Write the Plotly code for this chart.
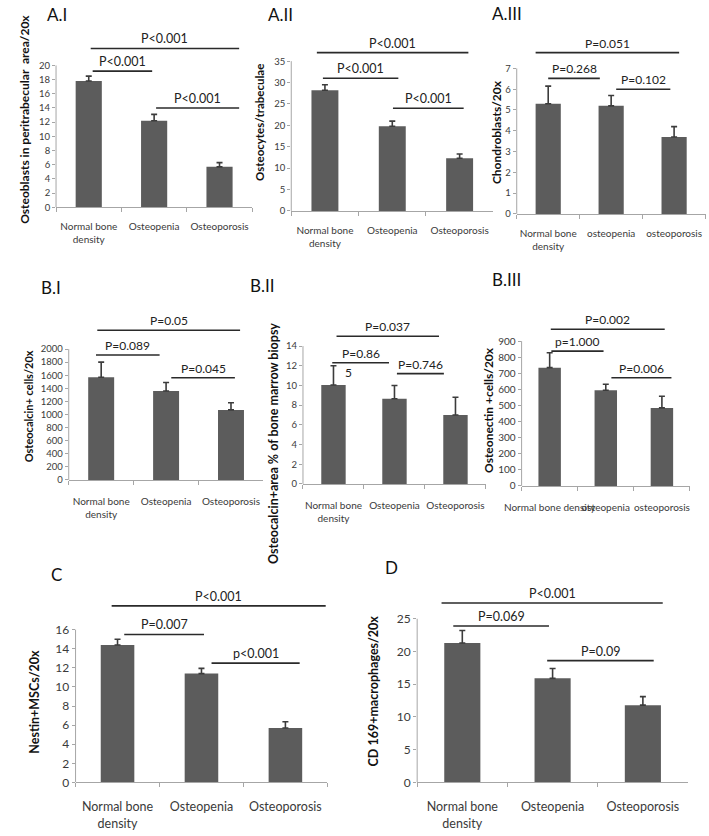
import plotly.graph_objects as go

W, H = 709, 836
FONT = "Lato, 'Open Sans', sans-serif"

# ---------------- data ----------------
cats_cap = ["Normal bone<br>density", "Osteopenia", "Osteoporosis"]
cats_low = ["Normal bone<br>density", "osteopenia", "osteoporosis"]
cats_one = ["Normal bone density", "osteopenia", "osteoporosis"]

# A.I
a1_values = [17.8, 12.2, 5.7]
a1_errors = [0.7, 0.9, 0.6]
a1_yticks = [0, 2, 4, 6, 8, 10, 12, 14, 16, 18, 20]
a1_p_labels = ["P<0.001", "P<0.001", "P<0.001"]
a1_p_from = [0.03, 0.06, 1.03]
a1_p_to = [2.30, 0.97, 2.30]
a1_p_height = [22.4, 19.2, 14.0]

# A.II
a2_values = [28.2, 19.8, 12.3]
a2_errors = [1.3, 1.2, 1.0]
a2_yticks = [0, 5, 10, 15, 20, 25, 30, 35]
a2_p_labels = ["P<0.001", "P<0.001", "P<0.001"]
a2_p_from = [-0.12, -0.03, 1.01]
a2_p_to = [2.13, 1.09, 2.06]
a2_p_height = [37.0, 31.0, 24.0]

# A.III
a3_values = [5.3, 5.2, 3.7]
a3_errors = [0.85, 0.5, 0.5]
a3_yticks = [0, 1, 2, 3, 4, 5, 6, 7]
a3_p_labels = ["P=0.051", "P=0.268", "P=0.102"]
a3_p_from = [-0.20, 0.0, 1.08]
a3_p_to = [2.08, 0.82, 1.94]
a3_p_height = [7.76, 6.52, 6.0]

# B.I
b1_values = [1570, 1360, 1070]
b1_errors = [230, 130, 110]
b1_yticks = [0, 200, 400, 600, 800, 1000, 1200, 1400, 1600, 1800, 2000]
b1_p_labels = ["P=0.05", "P=0.089", "P=0.045"]
b1_p_from = [-0.06, -0.08, 1.08]
b1_p_to = [2.14, 0.90, 2.06]
b1_p_height = [2288, 1909, 1561]

# B.II
b2_values = [10.05, 8.65, 7.0]
b2_errors = [1.95, 1.35, 1.8]
b2_yticks = [0, 2, 4, 6, 8, 10, 12, 14]
b2_p_labels = ["P=0.037", "P=0.86", "P=0.746"]
b2_p_from = [0.05, -0.02, 1.04]
b2_p_to = [1.73, 0.91, 1.81]
b2_p_height = [15.0, 12.3, 11.2]
b2_extra_text = ["5"]
b2_extra_x = [0.24]
b2_extra_y = [11.3]

# B.III
b3_values = [735, 595, 485]
b3_errors = [93, 37, 72]
b3_yticks = [0, 100, 200, 300, 400, 500, 600, 700, 800, 900]
b3_p_labels = ["P=0.002", "p=1.000", "P=0.006"]
b3_p_from = [0.02, 0.03, 1.10]
b3_p_to = [2.05, 0.96, 2.17]
b3_p_height = [974, 838, 672]

# C
c_values = [14.4, 11.4, 5.7]
c_errors = [0.6, 0.55, 0.65]
c_yticks = [0, 2, 4, 6, 8, 10, 12, 14, 16]
c_p_labels = ["P<0.001", "P=0.007", "p<0.001"]
c_p_from = [-0.07, 0.08, 1.12]
c_p_to = [2.48, 1.03, 2.17]
c_p_height = [18.5, 15.5, 12.5]

# D
d_values = [21.3, 15.9, 11.8]
d_errors = [1.9, 1.5, 1.3]
d_yticks = [0, 5, 10, 15, 20, 25]
d_p_labels = ["P<0.001", "P=0.069", "P=0.09"]
d_p_from = [-0.23, -0.10, 0.94]
d_p_to = [2.22, 0.96, 2.12]
d_p_height = [27.4, 23.9, 18.6]

# ---------------- layout geometry (pixels) & styles ----------------
panels = [
    dict(name="A.I", cats=cats_cap, v=a1_values, e=a1_errors, yt=a1_yticks,
         pl=a1_p_labels, pf=a1_p_from, pt=a1_p_to, ph=a1_p_height,
         ylabel="Osteoblasts in peritrabecular  area/20x",
         left=40, right=241, y0=209, ytop=66, domtop=25, so=10,
         tpos=(29, 15), ypos=(8, 120), yfs=12, tfs=9.5, xfs=10, pfs=12.5),
    dict(name="A.II", cats=cats_cap, v=a2_values, e=a2_errors, yt=a2_yticks,
         pl=a2_p_labels, pf=a2_p_from, pt=a2_p_to, ph=a2_p_height,
         ylabel="Osteocytes/trabeculae",
         left=281, right=488, y0=212.7, ytop=61.7, domtop=25, so=10,
         tpos=(255, 15), ypos=(249, 124), yfs=11.5, tfs=9.5, xfs=10, pfs=12.5),
    dict(name="A.III", cats=cats_low, v=a3_values, e=a3_errors, yt=a3_yticks,
         pl=a3_p_labels, pf=a3_p_from, pt=a3_p_to, ph=a3_p_height,
         ylabel="Chondroblasts/20x",
         left=512, right=705.5, y0=215.7, ytop=69, domtop=25, so=10,
         tpos=(485, 14), ypos=(492, 133), yfs=12, tfs=9.5, xfs=10, pfs=12),
    dict(name="B.I", cats=cats_cap, v=b1_values, e=b1_errors, yt=b1_yticks,
         pl=b1_p_labels, pf=b1_p_from, pt=b1_p_to, ph=b1_p_height,
         ylabel="Osteocalcin+ cells/20x",
         left=53, right=252.5, y0=484, ytop=352, domtop=312, so=12,
         tpos=(23, 290), ypos=(12, 410), yfs=11, tfs=9.5, xfs=10, pfs=12),
    dict(name="B.II", cats=cats_cap, v=b2_values, e=b2_errors, yt=b2_yticks,
         pl=b2_p_labels, pf=b2_p_from, pt=b2_p_to, ph=b2_p_height,
         ylabel="Osteocalcin+area % of bone marrow biopsy",
         left=293, right=480.5, y0=488, ytop=349, domtop=312, so=12,
         tpos=(237, 288), ypos=(263, 447), yfs=12.5, tfs=9.5, xfs=10, pfs=12),
    dict(name="B.III", cats=cats_one, v=b3_values, e=b3_errors, yt=b3_yticks,
         pl=b3_p_labels, pf=b3_p_from, pt=b3_p_to, ph=b3_p_height,
         ylabel="Osteonectin +cells/20x",
         left=517, right=689.5, y0=490, ytop=344, domtop=312, so=12,
         tpos=(485, 282), ypos=(483, 413), yfs=12, tfs=10, xfs=10, pfs=12),
    dict(name="C", cats=cats_cap, v=c_values, e=c_errors, yt=c_yticks,
         pl=c_p_labels, pf=c_p_from, pt=c_p_to, ph=c_p_height,
         ylabel="Nestin+MSCs/20x",
         left=60, right=318, y0=789, ytop=635, domtop=588, so=13,
         tpos=(33, 579), ypos=(18, 708), yfs=12.5, tfs=12, xfs=12.5, pfs=12.5),
    dict(name="D", cats=cats_cap, v=d_values, e=d_errors, yt=d_yticks,
         pl=d_p_labels, pf=d_p_from, pt=d_p_to, ph=d_p_height,
         ylabel="CD 169+macrophages/20x",
         left=410, right=687.5, y0=789, ytop=624, domtop=588, so=13,
         tpos=(375, 572), ypos=(365, 697), yfs=12.5, tfs=12, xfs=12.5, pfs=12.5),
]

BAR = "#5c5c5c"
AXIS = "#a6a6a6"
TXT = "#3a3a3a"

fig = go.Figure()
shapes, annotations = [], []


def px_x(p):
    return p / W


def px_y(p):
    return 1 - p / H


for i, p in enumerate(panels, start=1):
    sfx = "" if i == 1 else str(i)
    xa, ya = "x" + sfx, "y" + sfx
    scale = (p["y0"] - p["ytop"]) / p["yt"][-1]
    ytop_range = (p["y0"] - p["domtop"]) / scale

    fig.add_trace(go.Bar(
        x=p["cats"], y=p["v"], xaxis=xa, yaxis=ya,
        marker=dict(color=BAR, line=dict(width=0)),
        error_y=dict(type="data", symmetric=False, array=p["e"],
                     arrayminus=[0] * len(p["e"]), color="#3c3c3c",
                     thickness=1.6, width=3),
        hoverinfo="skip",
    ))

    fig.update_layout(**{
        ("xaxis" + sfx): dict(
            domain=[px_x(p["left"]), px_x(p["right"])], anchor=ya,
            type="category", range=[-0.5, 2.5], showline=True, linecolor=AXIS,
            linewidth=1, ticks="outside", tickson="boundaries", ticklen=4,
            tickcolor=AXIS, tickangle=0, showgrid=False, zeroline=False,
            tickfont=dict(family=FONT, size=p["xfs"], color=TXT),
            ticklabelstandoff=p["so"], ticklabeloverflow="allow", fixedrange=True),
        ("yaxis" + sfx): dict(
            domain=[px_y(p["y0"]), px_y(p["domtop"])], anchor=xa,
            range=[0, ytop_range], tickvals=p["yt"], showline=False,
            ticks="outside", ticklen=3, tickcolor=AXIS, showgrid=False,
            zeroline=False, tickfont=dict(family=FONT, size=p["tfs"], color=TXT),
            fixedrange=True),
    })

    # y axis line only up to the top tick
    shapes.append(dict(type="line", xref=xa + " domain", yref=ya,
                       x0=0, x1=0, y0=0, y1=p["yt"][-1],
                       line=dict(color=AXIS, width=1)))

    # significance brackets
    for lab, x0, x1, h in zip(p["pl"], p["pf"], p["pt"], p["ph"]):
        shapes.append(dict(type="line", xref=xa, yref=ya, x0=x0, x1=x1,
                           y0=h, y1=h, line=dict(color="#2a2a2a", width=1.6)))
        annotations.append(dict(xref=xa, yref=ya, x=(x0 + x1) / 2, y=h,
                                text=lab, showarrow=False, yanchor="bottom",
                                yshift=0,
                                font=dict(family=FONT, size=p["pfs"], color="#222")))

    # panel title
    annotations.append(dict(xref="paper", yref="paper", x=px_x(p["tpos"][0]),
                            y=px_y(p["tpos"][1]), text=p["name"], showarrow=False,
                            xanchor="left", yanchor="middle",
                            font=dict(family=FONT, size=17, color="#111")))
    # y axis title
    annotations.append(dict(xref="paper", yref="paper", x=px_x(p["ypos"][0]),
                            y=px_y(p["ypos"][1]), text="<b>" + p["ylabel"] + "</b>",
                            showarrow=False, textangle=-90, xanchor="center",
                            yanchor="middle",
                            font=dict(family=FONT, size=p["yfs"], color="#111")))

# stray digit under the B.II bracket label
for t, x, y in zip(b2_extra_text, b2_extra_x, b2_extra_y):
    annotations.append(dict(xref="x5", yref="y5", x=x, y=y, text=t,
                            showarrow=False, font=dict(family=FONT, size=12, color="#222")))

fig.update_layout(width=W, height=H, margin=dict(l=0, r=0, t=0, b=0),
                  paper_bgcolor="white", plot_bgcolor="white", showlegend=False,
                  bargap=0.6, shapes=shapes, annotations=annotations)

fig.write_html("out.html", config={"displayModeBar": False, "staticPlot": True},
               post_script="document.body.style.margin='0';document.body.style.overflow='hidden';")
